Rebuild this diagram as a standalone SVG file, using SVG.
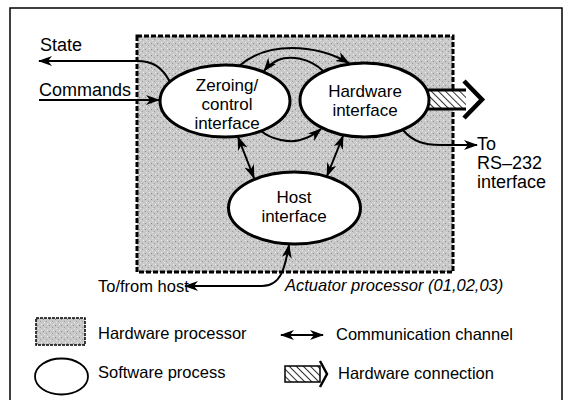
<svg xmlns="http://www.w3.org/2000/svg" width="567" height="400" viewBox="0 0 567 400">
<defs>
<style>
text{font-family:"Liberation Sans",Arial,Helvetica,sans-serif;fill:#000}
.big{font-size:18px}
.nt{font-size:17px;text-anchor:middle}
.small{font-size:16.5px}
.node{fill:#fff;stroke:#000;stroke-width:3}
.conn{fill:none;stroke:#000;stroke-width:2}
</style>
<pattern id="hatch" patternUnits="userSpaceOnUse" width="5" height="5" patternTransform="rotate(-45)">
<rect width="5" height="5" fill="#fff"/>
<line x1="0" y1="0" x2="0" y2="5" stroke="#000" stroke-width="1.6"/>
</pattern>
<pattern id="stipple" patternUnits="userSpaceOnUse" width="6" height="6">
<rect width="6" height="6" fill="#c9c9c9"/>
<rect x="1" y="1" width="1" height="1" fill="#8a8a8a"/>
<rect x="4" y="3" width="1" height="1" fill="#9a9a9a"/>
<rect x="2" y="4" width="1" height="1" fill="#e8e8e8"/>
<rect x="5" y="0" width="1" height="1" fill="#eeeeee"/>
</pattern>
<marker id="ah" markerUnits="userSpaceOnUse" viewBox="0 0 14 10" markerWidth="14" markerHeight="10" refX="13" refY="5" orient="auto-start-reverse">
<path d="M0,0 L14,5 L0,10 L4,5 z" fill="#000"/>
</marker>
</defs>

<rect x="10" y="8" width="552" height="400" fill="#fff" stroke="#000" stroke-width="1.5"/>

<g id="processor">
<rect x="137" y="36" width="316" height="236" fill="url(#stipple)" stroke="#000" stroke-width="3" stroke-dasharray="5 2"/>
<text class="small" x="285" y="291" font-style="italic">Actuator processor (01,02,03)</text>
</g>

<g id="hw-connection">
<rect x="420" y="90" width="46" height="19" fill="url(#hatch)"/>
<line x1="420" y1="90" x2="466" y2="90" stroke="#000" stroke-width="3"/>
<line x1="420" y1="109" x2="466" y2="109" stroke="#000" stroke-width="3"/>
<polyline points="464,81 482,99.5 464,118" fill="none" stroke="#000" stroke-width="4.5"/>
</g>

<g id="connectors">
<path class="conn" d="M170,82 C162,67 153,61 137,61 L39,61" marker-end="url(#ah)"/>
<path class="conn" d="M39,100 L159,100" marker-end="url(#ah)"/>
<path class="conn" d="M239,66 C255,52 275,48 292,48 C312,48 333,54 349,63" marker-end="url(#ah)"/>
<path class="conn" d="M323,71 C310,58 290,55 278,60 C272,63 268,66 264,71" marker-end="url(#ah)"/>
<path class="conn" d="M261,131 C272,140 290,143 300,140 C308,138 315,134 321,129" marker-end="url(#ah)"/>
<path class="conn" d="M238,137 L254,178" stroke-width="2.5" marker-start="url(#ah)" marker-end="url(#ah)"/>
<path class="conn" d="M343,136 L327,176" stroke-width="2.5" marker-start="url(#ah)" marker-end="url(#ah)"/>
<path class="conn" d="M403,130 C413,142 425,145 440,145 L477,145" marker-end="url(#ah)"/>
<path class="conn" d="M289,245 C285,268 281,286 262,286 L185,286" marker-start="url(#ah)" marker-end="url(#ah)"/>
</g>

<g id="zeroing">
<ellipse class="node" cx="225" cy="101" rx="65" ry="36"/>
<text class="nt" x="227" y="91">Zeroing/</text>
<text class="nt" x="227" y="110">control</text>
<text class="nt" x="227" y="129">interface</text>
</g>

<g id="hardware">
<ellipse class="node" cx="364.5" cy="100" rx="64.5" ry="37"/>
<text class="nt" x="365" y="97">Hardware</text>
<text class="nt" x="365" y="116">interface</text>
</g>

<g id="host">
<ellipse class="node" cx="294.5" cy="208" rx="66" ry="36"/>
<text class="nt" x="294" y="203">Host</text>
<text class="nt" x="294" y="222">interface</text>
</g>

<g id="labels">
<text class="big" x="40" y="51">State</text>
<text class="big" x="39" y="96">Commands</text>
<text class="big" x="477" y="150">To</text>
<text class="big" x="477" y="169">RS–232</text>
<text class="big" x="477" y="188">interface</text>
<text class="small" x="98" y="292">To/from host</text>
</g>

<g id="legend">
<rect x="36" y="318" width="49" height="27" fill="url(#stipple)" stroke="#000" stroke-width="1.5" stroke-dasharray="3 1"/>
<text class="small" x="98" y="339">Hardware processor</text>
<ellipse cx="61.5" cy="376.5" rx="26.5" ry="18" fill="#fff" stroke="#000" stroke-width="1.8"/>
<text class="small" x="98" y="378">Software process</text>
<path class="conn" d="M281,335 L323,335" marker-start="url(#ah)" marker-end="url(#ah)"/>
<text class="small" x="336" y="340">Communication channel</text>
<rect x="285" y="366" width="35" height="16" fill="url(#hatch)" stroke="#000" stroke-width="1.5"/>
<polyline points="320,361 327,374 320,387" fill="none" stroke="#000" stroke-width="2.5"/>
<text class="small" x="338" y="379">Hardware connection</text>
</g>
</svg>
